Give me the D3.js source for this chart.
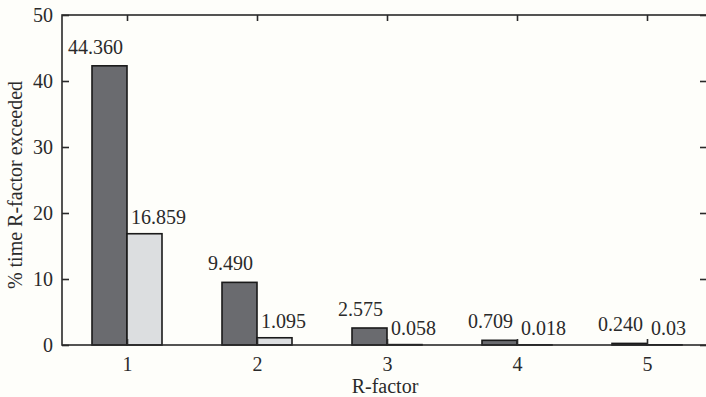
<!DOCTYPE html>
<html>
<head>
<meta charset="utf-8">
<script src="https://cdn.jsdelivr.net/npm/d3@7"></script>
<style>
  html, body { margin: 0; padding: 0; background: #fefefa; }
  svg { display: block; }
  text { font-family: "Liberation Serif", "Times New Roman", serif; fill: #2a2a2a; }
</style>
</head>
<body>
<svg id="chart" width="706" height="397"></svg>
<script>
const categories = [1, 2, 3, 4, 5];
const seriesA = [42.3, 9.49, 2.575, 0.709, 0.24];
const seriesB = [16.859, 1.095, 0.058, 0.018, 0.03];
const labelsA = ["44.360", "9.490", "2.575", "0.709", "0.240"];
const labelsB = ["16.859", "1.095", "0.058", "0.018", "0.03"];
const yTicks = [0, 10, 20, 30, 40, 50];

const mLeft = 62, mRight = 712, mTop = 15, mBottom = 345;
const frameRight = 709;
const svg = d3.select("#chart");

const x = d3.scaleLinear().domain([0.5, 5.5]).range([mLeft, mRight]);
const y = d3.scaleLinear().domain([0, 50]).range([mBottom, mTop]);
const barW = 35;
const fs = 20;

// bars
const g = svg.append("g");
g.selectAll("rect.a").data(categories).join("rect")
  .attr("class", "a")
  .attr("x", (d) => x(d) - barW)
  .attr("y", (d, i) => y(seriesA[i]))
  .attr("width", barW)
  .attr("height", (d, i) => y(0) - y(seriesA[i]))
  .attr("fill", "#6a6b6f").attr("stroke", "#1a1a1a").attr("stroke-width", 1.6);
g.selectAll("rect.b").data(categories).join("rect")
  .attr("class", "b")
  .attr("x", (d) => x(d))
  .attr("y", (d, i) => y(seriesB[i]))
  .attr("width", barW)
  .attr("height", (d, i) => y(0) - y(seriesB[i]))
  .attr("fill", "#dcdee0").attr("stroke", "#1a1a1a").attr("stroke-width", 1.6);

// value labels
g.selectAll("text.la").data(categories).join("text")
  .attr("class", "la")
  .attr("x", (d) => x(d) - 4)
  .attr("y", (d, i) => y(seriesA[i]) - 12)
  .attr("text-anchor", "end")
  .attr("font-size", fs)
  .text((d, i) => labelsA[i]);
g.selectAll("text.lb").data(categories).join("text")
  .attr("class", "lb")
  .attr("x", (d) => x(d) + 4)
  .attr("y", (d, i) => y(seriesB[i]) - 10)
  .attr("text-anchor", "start")
  .attr("font-size", fs)
  .text((d, i) => labelsB[i]);

// frame
svg.append("rect")
  .attr("x", mLeft).attr("y", mTop)
  .attr("width", frameRight - mLeft).attr("height", mBottom - mTop)
  .attr("fill", "none").attr("stroke", "#2a2a2a").attr("stroke-width", 1.6);

// axes
const yAxis = d3.axisLeft(y).tickValues(yTicks).tickSize(-7).tickPadding(9).tickFormat(d3.format("d"));
const ya = svg.append("g").attr("transform", `translate(${mLeft},0)`).call(yAxis);
const yAxisR = d3.axisRight(y).tickValues(yTicks).tickSize(-9).tickFormat("");
const yr = svg.append("g").attr("transform", `translate(${frameRight},0)`).call(yAxisR);
const xAxis = d3.axisBottom(x).tickValues(categories).tickSize(-6).tickPadding(12).tickFormat(d3.format("d"));
const xa = svg.append("g").attr("transform", `translate(0,${mBottom})`).call(xAxis);
const xAxisT = d3.axisTop(x).tickValues(categories).tickSize(-6).tickFormat("");
const xt = svg.append("g").attr("transform", `translate(0,${mTop})`).call(xAxisT);

[ya, yr, xa, xt].forEach((a) => {
  a.select(".domain").remove();
  a.selectAll(".tick line").attr("stroke", "#2a2a2a").attr("stroke-width", 1.6);
  a.selectAll(".tick text").attr("font-size", fs).attr("fill", "#2a2a2a")
    .style("font-family", "'Liberation Serif', serif");
});

// axis titles
svg.append("text")
  .attr("x", (mLeft + mRight) / 2 - 2).attr("y", 393)
  .attr("text-anchor", "middle").attr("font-size", fs)
  .text("R-factor");
svg.append("text")
  .attr("transform", `translate(22,${185}) rotate(-90)`)
  .attr("text-anchor", "middle").attr("font-size", fs)
  .text("% time R-factor exceeded");
</script>
</body>
</html>
